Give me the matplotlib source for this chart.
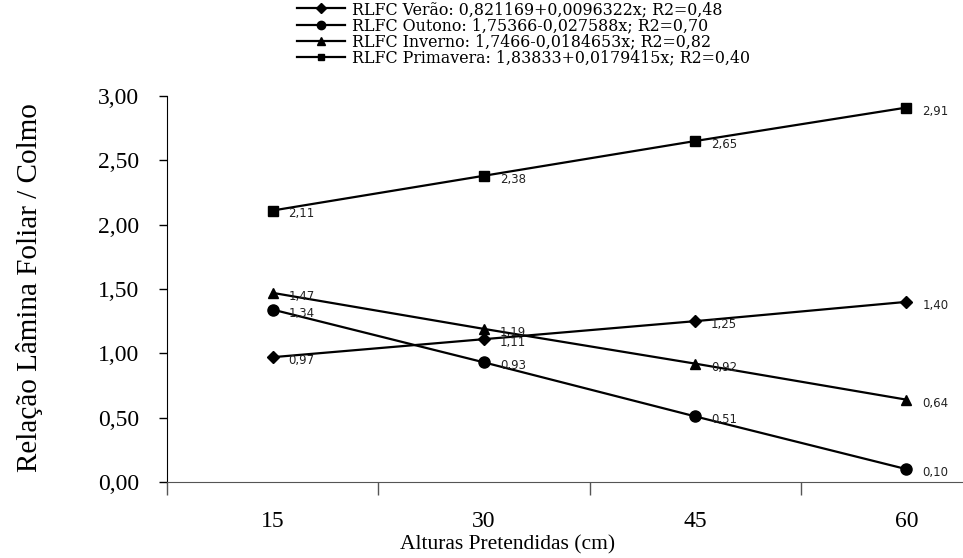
import numpy as np
import matplotlib.pyplot as plt
from matplotlib.ticker import FixedLocator, FuncFormatter

alturas = ['15', '30', '45', '60']
verao = [0.97, 1.11, 1.25, 1.40]
outono = [1.34, 0.93, 0.51, 0.10]
inverno = [1.47, 1.19, 0.92, 0.64]
primavera = [2.11, 2.38, 2.65, 2.91]

nomes = ['RLFC Verão: 0,821169+0,0096322x; R2=0,48',
         'RLFC Outono: 1,75366-0,027588x; R2=0,70',
         'RLFC Inverno: 1,7466-0,0184653x; R2=0,82',
         'RLFC Primavera: 1,83833+0,0179415x; R2=0,40']
marcadores = ['D', 'o', '^', 's']
tamanhos = [6.5, 8, 7.5, 6.5]

serif = ['Liberation Serif', 'DejaVu Serif']

fig = plt.figure(figsize=(9.63, 5.58), dpi=100)
# eixo de categorias estilo Excel, o ultimo intervalo passa da borda da figura
ax = fig.add_axes([167 / 963, 76 / 558, 845 / 963, 386 / 558])

x = np.arange(1, len(alturas) + 1)
series = [verao, outono, inverno, primavera]
handles = []
for vals, nome, m, ms in zip(series, nomes, marcadores, tamanhos):
    h, = ax.plot(x, vals, color='black', linewidth=1.6, marker=m,
                 markersize=ms, label=nome)
    handles.append(h)
    for xi, v in zip(x, vals):
        ax.annotate(f'{v:.2f}'.replace('.', ','), (xi, v), xytext=(11.5, -2.5),
                    textcoords='offset points', ha='left', va='center',
                    fontsize=8.5, family='DejaVu Sans', color='#222222')

ax.set_xlim(0.5, 4.5)
ax.set_ylim(0, 3.0)
ax.yaxis.set_major_locator(FixedLocator(np.arange(0, 3.01, 0.5)))
ax.yaxis.set_major_formatter(FuncFormatter(lambda v, p: f'{v:.2f}'.replace('.', ',')))
ax.xaxis.set_major_locator(FixedLocator(np.arange(0.5, 4.6, 1.0)))
ax.xaxis.set_major_formatter(FuncFormatter(lambda v, p: ''))
ax.xaxis.set_minor_locator(FixedLocator(x))
ax.set_xticklabels(alturas, minor=True)
ax.tick_params(axis='x', which='major', direction='out', length=9, width=1, color='#555555')
ax.tick_params(axis='x', which='minor', length=0, pad=21, labelsize=17)
ax.tick_params(axis='y', direction='out', length=6, width=1, pad=14, labelsize=17)
for lab in ax.get_xticklabels(minor=True) + ax.get_yticklabels():
    lab.set_family(serif)

ax.spines['top'].set_visible(False)
ax.spines['right'].set_visible(False)
ax.spines['bottom'].set_color('#555555')
ax.spines['left'].set_color('black')

fig.text(30 / 963, 1 - 288 / 558, 'Relação Lâmina Foliar / Colmo', rotation=90,
         ha='center', va='center', fontsize=21, family=serif)
fig.text(508 / 963, 1 - 545 / 558, 'Alturas Pretendidas (cm)',
         ha='center', va='center', fontsize=15.5, family=serif)

fig.legend(handles=handles, loc='upper left', bbox_to_anchor=(297 / 963, 1 - 1 / 558),
           frameon=False, prop={'family': ['DejaVu Serif'], 'size': 11.4},
           handlelength=3.0, handletextpad=0.45, labelspacing=-0.06,
           markerscale=0.75, borderaxespad=0, borderpad=0)

fig.savefig('out.png', dpi=100)
